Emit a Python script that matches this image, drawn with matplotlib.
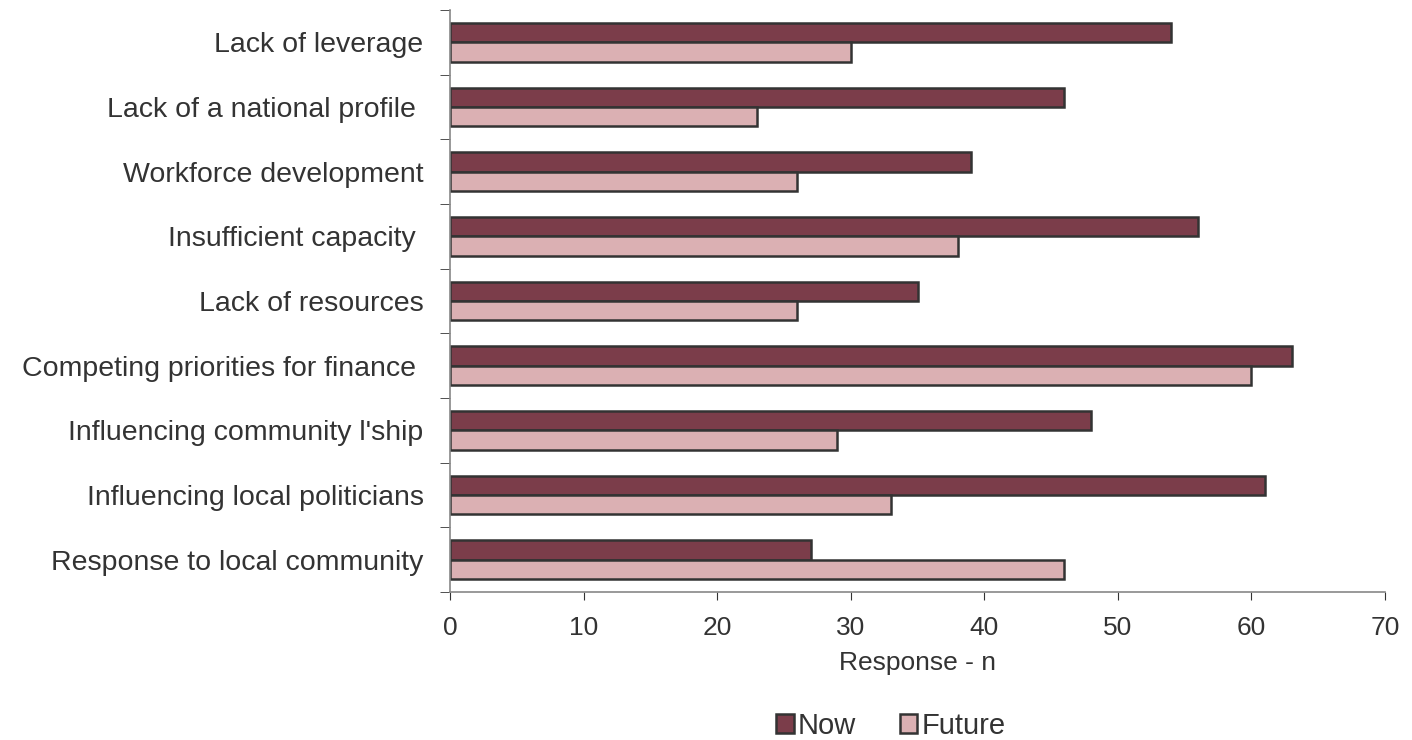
import matplotlib
matplotlib.use("Agg")
import matplotlib.pyplot as plt
import numpy as np

# data
categories = ["Lack of leverage", "Lack of a national profile ", "Workforce development",
              "Insufficient capacity ", "Lack of resources", "Competing priorities for finance ",
              "Influencing community l'ship", "Influencing local politicians",
              "Response to local community"]
now_values = [54, 46, 39, 56, 35, 63, 48, 61, 27]
future_values = [30, 23, 26, 38, 26, 60, 29, 33, 46]
x_ticks = [0, 10, 20, 30, 40, 50, 60, 70]

plt.rcParams['font.family'] = ['Liberation Sans', 'DejaVu Sans']
text_color = "#333333"

fig = plt.figure(figsize=(14.12, 7.4), dpi=100)
ax = fig.add_axes([450 / 1412, 1 - 592 / 740, 935 / 1412, 582 / 740])

y = np.arange(len(categories))
bar_h = 0.3
ax.barh(y - bar_h / 2, now_values, height=bar_h, color="#7B3D4A",
        edgecolor="#333333", linewidth=1.8, label="Now")
ax.barh(y + bar_h / 2, future_values, height=bar_h, color="#DBB0B3",
        edgecolor="#333333", linewidth=1.8, label="Future")

ax.set_ylim(len(categories) - 0.5, -0.5)
ax.set_xlim(0, 70)
ax.set_xticks(x_ticks)
ax.tick_params(axis="x", labelsize=19, colors=text_color, length=6, pad=11)

# category labels on major ticks (no tick mark), tick marks at boundaries
ax.set_yticks(y)
ax.set_yticklabels(categories)
ax.tick_params(axis="y", which="major", length=0, labelsize=20.5, pad=19, labelcolor=text_color)
ax.set_yticks(np.arange(len(categories) + 1) - 0.5, minor=True)
ax.tick_params(axis="y", which="minor", length=7, color=text_color)

for s in ["top", "right"]:
    ax.spines[s].set_visible(False)
for s in ["left", "bottom"]:
    ax.spines[s].set_color("#888888")
    ax.spines[s].set_linewidth(1.2)

ax.set_xlabel("Response - n", fontsize=19, color=text_color, labelpad=8)

leg = fig.legend(loc="center", bbox_to_anchor=(891 / 1412, 1 - 726 / 740), ncol=2, frameon=False,
                 fontsize=21, handlelength=0.6, handleheight=0.6, handletextpad=0.15,
                 columnspacing=1.5)
for t in leg.get_texts():
    t.set_color(text_color)

fig.savefig("out.png", dpi=100)
